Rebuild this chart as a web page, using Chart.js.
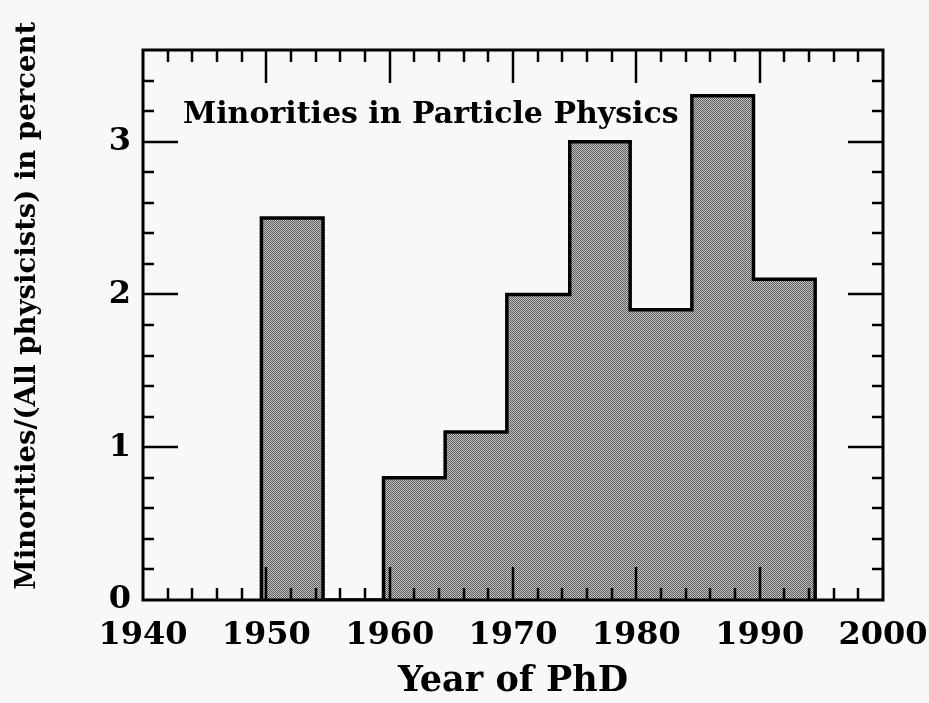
<!DOCTYPE html>
<html>
<head>
<meta charset="utf-8">
<script src="https://cdn.jsdelivr.net/npm/chart.js@4/dist/chart.umd.min.js"></script>
<style>
  html, body { margin: 0; padding: 0; background: #f8f8f8; }
  canvas { display: block; }
</style>
</head>
<body>
<canvas id="phd" width="929" height="703"></canvas>
<script>
// bin edges (year of PhD) and height of each bin
const binEdges = [1949.6, 1954.6, 1959.5, 1964.5, 1969.5, 1974.6, 1979.5, 1984.5, 1989.5, 1994.5];
const minorityPct = [2.5, 0, 0.8, 1.1, 2.0, 3.0, 1.9, 3.3, 2.1];
const xTickLabels = ["1940", "1950", "1960", "1970", "1980", "1990", "2000"];
const yTickLabels = ["0", "1", "2", "3"];
const plotTitle = "Minorities in Particle Physics";

const serif = "'DejaVu Serif', 'Liberation Serif', serif";

// histogram outline as a step path
let outline = [{ x: binEdges[0], y: 0 }];
minorityPct.forEach((v, i) => {
  outline.push({ x: binEdges[i], y: v });
  outline.push({ x: binEdges[i + 1], y: v });
});
outline.push({ x: binEdges[binEdges.length - 1], y: 0 });

// dithered grey fill like the printed original
function ditherPattern() {
  let c = document.createElement("canvas");
  c.width = 4;
  c.height = 4;
  let g = c.getContext("2d");
  g.fillStyle = "#c2c2c2";
  g.fillRect(0, 0, 4, 4);
  g.fillStyle = "#5e5e5e";
  for (let y = 0; y < 4; y++) {
    for (let x = 0; x < 4; x++) {
      if ((x + y) % 2 === 0) g.fillRect(x, y, 1, 1);
    }
  }
  return g.createPattern(c, "repeat");
}

const frameTicks = {
  id: "frameTicks",
  afterDatasetsDraw(chart) {
    const { ctx, chartArea: a, scales } = chart;
    const xs = scales.x, ys = scales.y;
    ctx.save();
    ctx.strokeStyle = "#000";
    ctx.lineCap = "butt";

    ctx.lineWidth = 2.5;
    ctx.beginPath();
    for (let yr = xs.min + 2; yr < xs.max; yr += 2) {
      let px = Math.round(xs.getPixelForValue(yr));
      let len = yr % 10 === 0 ? 33 : 12;
      ctx.moveTo(px, a.bottom);
      ctx.lineTo(px, a.bottom - len);
      ctx.moveTo(px, a.top);
      ctx.lineTo(px, a.top + len);
    }
    for (let i = 1; i * 0.2 < ys.max - 0.01; i++) {
      let py = Math.round(ys.getPixelForValue(i * 0.2));
      let len = i % 5 === 0 ? 35 : 11;
      ctx.moveTo(a.left, py);
      ctx.lineTo(a.left + len, py);
      ctx.moveTo(a.right, py);
      ctx.lineTo(a.right - len, py);
    }
    ctx.stroke();

    ctx.lineWidth = 3;
    ctx.strokeRect(a.left, a.top, a.right - a.left, a.bottom - a.top);

    ctx.fillStyle = "#000";
    ctx.font = "bold 30px " + serif;
    ctx.textBaseline = "alphabetic";
    ctx.fillText(plotTitle, a.left + 40, a.top + 73);
    ctx.restore();
  },
};

new Chart(document.getElementById("phd"), {
  type: "line",
  data: {
    datasets: [
      {
        label: "Minorities",
        data: outline,
        borderColor: "#000",
        borderWidth: 3.5,
        backgroundColor: ditherPattern(),
        fill: "origin",
        pointRadius: 0,
        tension: 0,
        borderJoinStyle: "miter",
      },
    ],
  },
  options: {
    responsive: false,
    devicePixelRatio: 1,
    animation: false,
    layout: { padding: { top: 50, right: 46, left: 0, bottom: 0 } },
    plugins: { legend: { display: false }, tooltip: { enabled: false } },
    scales: {
      x: {
        type: "linear",
        min: 1940,
        max: 2000,
        grid: { display: false },
        border: { display: false },
        afterBuildTicks: (s) => {
          s.ticks = xTickLabels.map((t) => ({ value: Number(t) }));
        },
        afterFit: (s) => {
          s.height = 103;
          s.paddingLeft = 0;
          s.paddingRight = 0;
        },
        ticks: {
          color: "#000",
          padding: 8,
          maxRotation: 0,
          autoSkip: false,
          font: { family: serif, weight: "bold", size: 32 },
          callback: (v) => String(v),
        },
        title: {
          display: true,
          text: "Year of PhD",
          color: "#000",
          padding: { top: 0, bottom: 0 },
          font: { family: serif, weight: "bold", size: 35 },
        },
      },
      y: {
        type: "linear",
        min: 0,
        max: 3.6,
        grid: { display: false },
        border: { display: false },
        afterBuildTicks: (s) => {
          s.ticks = yTickLabels.map((t) => ({ value: Number(t) }));
        },
        afterFit: (s) => {
          s.width = 143;
          s.paddingTop = 0;
          s.paddingBottom = 0;
        },
        ticks: {
          color: "#000",
          padding: 4,
          autoSkip: false,
          font: { family: serif, weight: "bold", size: 32 },
          callback: (v) => String(v),
        },
        title: {
          display: true,
          // leading spaces nudge the centred label up, as in the original
          text: "    Minorities/(All physicists) in percent",
          color: "#000",
          padding: { top: 11, bottom: 0 },
          font: { family: serif, weight: "bold", size: 27.5 },
        },
      },
    },
  },
  plugins: [frameTicks],
});
</script>
</body>
</html>
